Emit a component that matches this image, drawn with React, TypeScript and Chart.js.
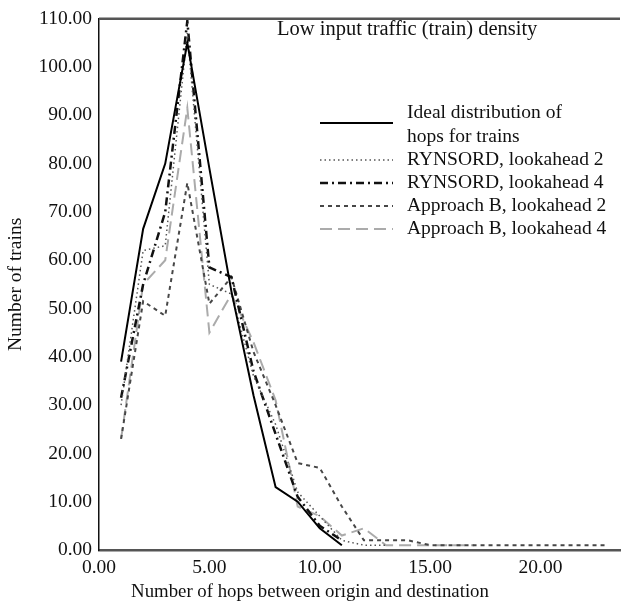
import React, { useEffect, useRef } from 'react';
import { Chart, registerables } from 'chart.js';

Chart.register(...registerables);

// ---- data ----
const hops = [1, 2, 3, 4, 5, 6, 7, 8, 9, 10, 11, 12, 13, 14, 15, 16, 17, 18, 19, 20, 21, 22, 23];
const idealTrains = [39, 66.5, 80, 105, 79, 53.5, 32, 13, 10, 4.5, 1];
const rynsord2Trains = [30, 62, 63, 107, 55, 53, 36, 26, 12, 7, 2, 1, 1];
const rynsord4Trains = [31.5, 55, 70, 109.5, 58.5, 56.5, 37, 24, 11, 5, 2];
const approachB2Trains = [23, 51.5, 48.5, 76, 51, 56.5, 41, 30, 18, 17, 9, 2, 2, 2, 1, 1, 1, 1, 1, 1, 1, 1, 1];
const approachB4Trains = [23, 55, 60, 91.5, 45, 53, 43, 31, 9, 7, 3, 4.5, 1, 1, 1, 1, 1];
const seriesLabels = [
  'Ideal distribution of\nhops for trains',
  'RYNSORD, lookahead 2',
  'RYNSORD, lookahead 4',
  'Approach B, lookahead 2',
  'Approach B, lookahead 4',
];
const xTickValues = [0, 5, 10, 15, 20];
const yTickValues = [0, 10, 20, 30, 40, 50, 60, 70, 80, 90, 100, 110];
const chartTitle = 'Low input traffic (train) density';
const xAxisTitle = 'Number of hops between origin and destination';
const yAxisTitle = 'Number of trains';

const FONT = '"Liberation Serif", "Times New Roman", serif';
const FS = 19.5;

export default function App() {
  const ref = useRef<HTMLCanvasElement>(null);

  useEffect(() => {
    if (!ref.current) return;
    const toPts = (vals: number[]) => vals.map((v, i) => ({ x: hops[i], y: v }));
    const styles = [
      { color: '#000000', width: 2, dash: [] as number[] },
      { color: '#555555', width: 1.5, dash: [1.5, 3] },
      { color: '#111111', width: 2.5, dash: [8, 4, 2, 4] },
      { color: '#474747', width: 2, dash: [4, 4] },
      { color: '#ababab', width: 2, dash: [12, 6] },
    ];
    const values = [idealTrains, rynsord2Trains, rynsord4Trains, approachB2Trains, approachB4Trains];

    const datasets = values.map((vals, i) => ({
      label: seriesLabels[i],
      data: toPts(vals),
      borderColor: styles[i].color,
      borderWidth: styles[i].width,
      borderDash: styles[i].dash,
      pointRadius: 0,
      tension: 0,
      fill: false,
    }));

    const legendRows = [
      { lineY: 123, textYs: [113, 137] },
      { lineY: 160, textYs: [160] },
      { lineY: 183, textYs: [183] },
      { lineY: 206, textYs: [206] },
      { lineY: 229, textYs: [229] },
    ];

    const overlay = {
      id: 'overlay',
      afterDraw(chart: any) {
        const { ctx, chartArea } = chart;
        ctx.save();
        // top frame line
        ctx.setLineDash([]);
        ctx.strokeStyle = '#555555';
        ctx.lineWidth = 2.5;
        ctx.beginPath();
        ctx.moveTo(chartArea.left, chartArea.top);
        ctx.lineTo(chartArea.right, chartArea.top);
        ctx.stroke();

        ctx.fillStyle = '#111111';
        ctx.textBaseline = 'middle';
        ctx.textAlign = 'left';
        ctx.font = `20.5px ${FONT}`;
        ctx.fillText(chartTitle, 277, 30);

        // legend
        ctx.font = `${FS}px ${FONT}`;
        chart.data.datasets.forEach((ds: any, i: number) => {
          const row = legendRows[i];
          ctx.save();
          ctx.strokeStyle = ds.borderColor;
          ctx.lineWidth = ds.borderWidth;
          ctx.setLineDash(ds.borderDash || []);
          ctx.beginPath();
          ctx.moveTo(320, row.lineY);
          ctx.lineTo(393, row.lineY);
          ctx.stroke();
          ctx.restore();
          const lines = String(ds.label).split('\n');
          lines.forEach((t: string, j: number) => {
            ctx.fillText(t, 407, row.textYs[j]);
          });
        });

        // x axis title
        ctx.textAlign = 'center';
        ctx.font = `18.8px ${FONT}`;
        ctx.fillText(xAxisTitle, 310, 592);
        ctx.restore();
      },
    };

    const chart = new Chart(ref.current, {
      type: 'line',
      data: { datasets },
      plugins: [overlay],
      options: {
        animation: false,
        responsive: true,
        maintainAspectRatio: false,
        layout: { padding: { top: 9, right: 2, left: 0, bottom: 0 } },
        plugins: {
          legend: { display: false },
          tooltip: { enabled: false },
          title: { display: false },
        },
        scales: {
          x: {
            type: 'linear',
            min: 0,
            max: 23.6,
            grid: { display: false, drawTicks: false },
            border: { display: true, color: '#555555', width: 2.5 },
            afterBuildTicks: (scale: any) => {
              scale.ticks = xTickValues.map((v) => ({ value: v }));
            },
            afterFit: (scale: any) => {
              scale.height = 63;
            },
            ticks: {
              padding: 6,
              color: '#111111',
              font: { family: FONT, size: FS },
              maxRotation: 0,
              callback: (v: any) => Number(v).toFixed(2),
            },
          },
          y: {
            type: 'linear',
            min: 0,
            max: 110,
            grid: { display: false, drawTicks: false },
            border: { display: true, color: '#111111', width: 1.5 },
            afterBuildTicks: (scale: any) => {
              scale.ticks = yTickValues.map((v) => ({ value: v }));
            },
            afterFit: (scale: any) => {
              scale.width = 99;
            },
            title: {
              display: true,
              text: yAxisTitle,
              color: '#111111',
              font: { family: FONT, size: FS },
              padding: { top: 4, bottom: 0 },
            },
            ticks: {
              padding: 7,
              color: '#111111',
              font: { family: FONT, size: FS },
              callback: (v: any) => Number(v).toFixed(2),
            },
          },
        },
      },
    });

    return () => chart.destroy();
  }, []);

  return (
    <div style={{ position: 'fixed', left: 0, top: 0, width: 622, height: 613 }}>
      <canvas ref={ref} />
    </div>
  );
}
